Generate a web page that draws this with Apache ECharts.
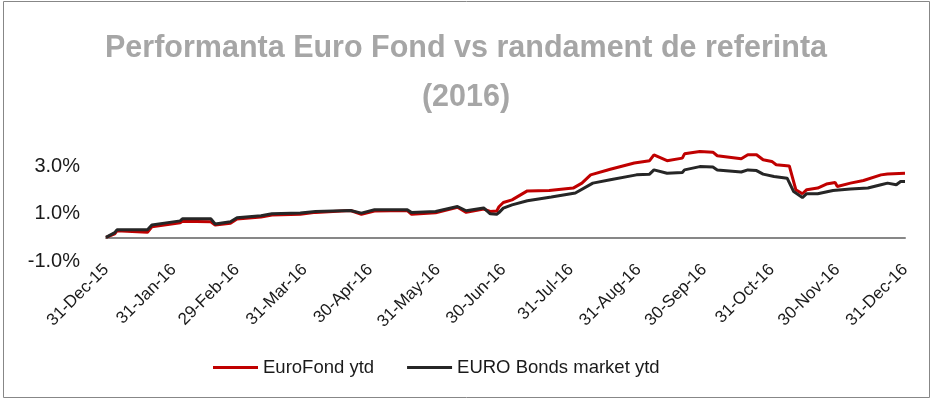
<!DOCTYPE html>
<html>
<head>
<meta charset="utf-8">
<script src="https://cdn.jsdelivr.net/npm/echarts@6/dist/echarts.min.js"></script>
<style>
  html, body { margin: 0; padding: 0; background: #fff; }
  #chart { width: 932px; height: 401px; }
</style>
</head>
<body>
<div id="chart"></div>
<script>
// month-end ticks on the x axis
const tickDates = ['2015-12-31', '2016-01-31', '2016-02-29', '2016-03-31', '2016-04-30', '2016-05-31',
  '2016-06-30', '2016-07-31', '2016-08-31', '2016-09-30', '2016-10-31', '2016-11-30', '2016-12-31'];
const tickLabels = ['31-Dec-15', '31-Jan-16', '29-Feb-16', '31-Mar-16', '30-Apr-16', '31-May-16',
  '30-Jun-16', '31-Jul-16', '31-Aug-16', '30-Sep-16', '31-Oct-16', '30-Nov-16', '31-Dec-16'];
const yTicks = [-1, 1, 3];

// EuroFond ytd (%)
const fondDates = ['2015-12-31', '2016-01-04', '2016-01-05', '2016-01-19', '2016-01-21', '2016-02-03',
  '2016-02-04', '2016-02-17', '2016-02-19', '2016-02-26', '2016-02-29', '2016-03-11', '2016-03-16',
  '2016-03-29', '2016-04-05', '2016-04-21', '2016-04-26', '2016-05-02', '2016-05-17', '2016-05-19',
  '2016-05-30', '2016-06-09', '2016-06-13', '2016-06-21', '2016-06-24', '2016-06-27', '2016-06-28',
  '2016-06-30', '2016-07-04', '2016-07-11', '2016-07-21', '2016-08-01', '2016-08-05', '2016-08-09',
  '2016-08-18', '2016-08-29', '2016-09-05', '2016-09-07', '2016-09-13', '2016-09-20', '2016-09-21',
  '2016-09-28', '2016-10-04', '2016-10-06', '2016-10-17', '2016-10-20', '2016-10-24', '2016-10-27',
  '2016-10-31', '2016-11-02', '2016-11-08', '2016-11-11', '2016-11-14', '2016-11-16', '2016-11-21',
  '2016-11-25', '2016-11-29', '2016-11-30', '2016-12-06', '2016-12-12', '2016-12-20', '2016-12-23',
  '2016-12-31'];
const fondValues = [0.0, 0.15, 0.28, 0.22, 0.45, 0.62,
  0.68, 0.66, 0.52, 0.6, 0.78, 0.86, 0.95,
  0.98, 1.06, 1.14, 0.98, 1.12, 1.14, 0.98,
  1.04, 1.28, 1.06, 1.2, 1.1, 1.12, 1.3,
  1.48, 1.59, 1.97, 1.99, 2.09, 2.3, 2.65,
  2.89, 3.15, 3.25, 3.5, 3.25, 3.36, 3.54,
  3.64, 3.61, 3.46, 3.33, 3.5, 3.5, 3.29,
  3.22, 3.08, 3.03, 2.02, 1.85, 2.02, 2.09,
  2.26, 2.33, 2.16, 2.3, 2.41, 2.65, 2.69,
  2.72];

// EURO Bonds market ytd (%)
const bondDates = ['2015-12-31', '2016-01-04', '2016-01-05', '2016-01-19', '2016-01-21', '2016-02-03',
  '2016-02-04', '2016-02-17', '2016-02-19', '2016-02-26', '2016-02-29', '2016-03-11', '2016-03-16',
  '2016-03-29', '2016-04-05', '2016-04-21', '2016-04-26', '2016-05-02', '2016-05-17', '2016-05-19',
  '2016-05-30', '2016-06-09', '2016-06-13', '2016-06-21', '2016-06-24', '2016-06-27', '2016-06-28',
  '2016-06-30', '2016-07-04', '2016-07-11', '2016-07-22', '2016-08-02', '2016-08-10', '2016-08-18',
  '2016-08-30', '2016-09-05', '2016-09-07', '2016-09-13', '2016-09-20', '2016-09-21', '2016-09-28',
  '2016-10-04', '2016-10-06', '2016-10-17', '2016-10-20', '2016-10-24', '2016-10-27', '2016-11-01',
  '2016-11-07', '2016-11-10', '2016-11-14', '2016-11-16', '2016-11-21', '2016-11-28', '2016-12-06',
  '2016-12-14', '2016-12-20', '2016-12-23', '2016-12-27', '2016-12-29', '2016-12-31'];
const bondValues = [0.0, 0.2, 0.32, 0.32, 0.53, 0.7,
  0.79, 0.79, 0.57, 0.66, 0.83, 0.92, 1.0,
  1.03, 1.1, 1.14, 1.03, 1.17, 1.17, 1.05,
  1.1, 1.31, 1.13, 1.25, 1.0, 0.98, 1.05,
  1.24, 1.38, 1.55, 1.71, 1.88, 2.3, 2.44,
  2.65, 2.68, 2.86, 2.72, 2.75, 2.86, 3.0,
  2.98, 2.86, 2.77, 2.86, 2.83, 2.68, 2.58,
  2.51, 1.94, 1.69, 1.85, 1.85, 1.99, 2.05,
  2.09, 2.23, 2.3, 2.23, 2.37, 2.37];

// day number counted from 31-Dec-15
const DAY = 86400000;
const t0 = Date.UTC(2015, 11, 31);
function dayNo(s) {
  const p = s.split('-').map(Number);
  return Math.round((Date.UTC(p[0], p[1] - 1, p[2]) - t0) / DAY);
}
const tickDays = tickDates.map(dayNo);
const pairs = (dates, vals) => dates.map((d, i) => [dayNo(d), vals[i]]);

const FONT = 'Liberation Sans';
const chart = echarts.init(document.getElementById('chart'));
chart.setOption({
  animation: false,
  title: {
    text: 'Performanta Euro Fond vs randament de referinta\n(2016)',
    left: 'center',
    top: 19,
    textStyle: {
      fontFamily: FONT,
      fontSize: 30.5,
      fontWeight: 'bold',
      color: '#a6a6a6',
      lineHeight: 49
    }
  },
  legend: {
    left: 208,
    top: 353,
    itemWidth: 45,
    itemHeight: 3,
    itemGap: 33,
    icon: 'rect',
    textStyle: { fontFamily: FONT, fontSize: 18.5, color: '#1a1a1a' },
    data: ['EuroFond ytd', 'EURO Bonds market ytd']
  },
  graphic: [{
    type: 'rect',
    shape: { x: 3.5, y: 1.5, width: 926, height: 396 },
    style: { fill: 'none', stroke: '#878787', lineWidth: 1 },
    silent: true
  }],
  grid: { left: 106, right: 27, top: 143, bottom: 140 },
  xAxis: {
    type: 'value',
    min: tickDays[0],
    max: tickDays[tickDays.length - 1],
    axisLine: { onZero: true, lineStyle: { color: '#878787', width: 2 } },
    axisTick: { show: false },
    splitLine: { show: false },
    axisLabel: {
      customValues: tickDays,
      rotate: 45,
      margin: 6,
      fontFamily: FONT,
      fontSize: 17,
      color: '#1a1a1a',
      formatter: function (v) {
        const i = tickDays.indexOf(v);
        return i >= 0 ? tickLabels[i] : '';
      }
    }
  },
  yAxis: {
    type: 'value',
    min: -1,
    max: 4,
    axisLine: { show: false },
    axisTick: { show: false },
    splitLine: { show: false },
    axisLabel: {
      customValues: yTicks,
      margin: 26,
      fontFamily: FONT,
      fontSize: 20,
      color: '#1a1a1a',
      formatter: v => v.toFixed(1) + '%'
    }
  },
  series: [
    {
      name: 'EuroFond ytd',
      type: 'line',
      data: pairs(fondDates, fondValues),
      showSymbol: false,
      itemStyle: { color: '#c00000' },
      lineStyle: { color: '#c00000', width: 3 }
    },
    {
      name: 'EURO Bonds market ytd',
      type: 'line',
      data: pairs(bondDates, bondValues),
      showSymbol: false,
      itemStyle: { color: '#262626' },
      lineStyle: { color: '#262626', width: 3 }
    }
  ]
});
</script>
</body>
</html>
